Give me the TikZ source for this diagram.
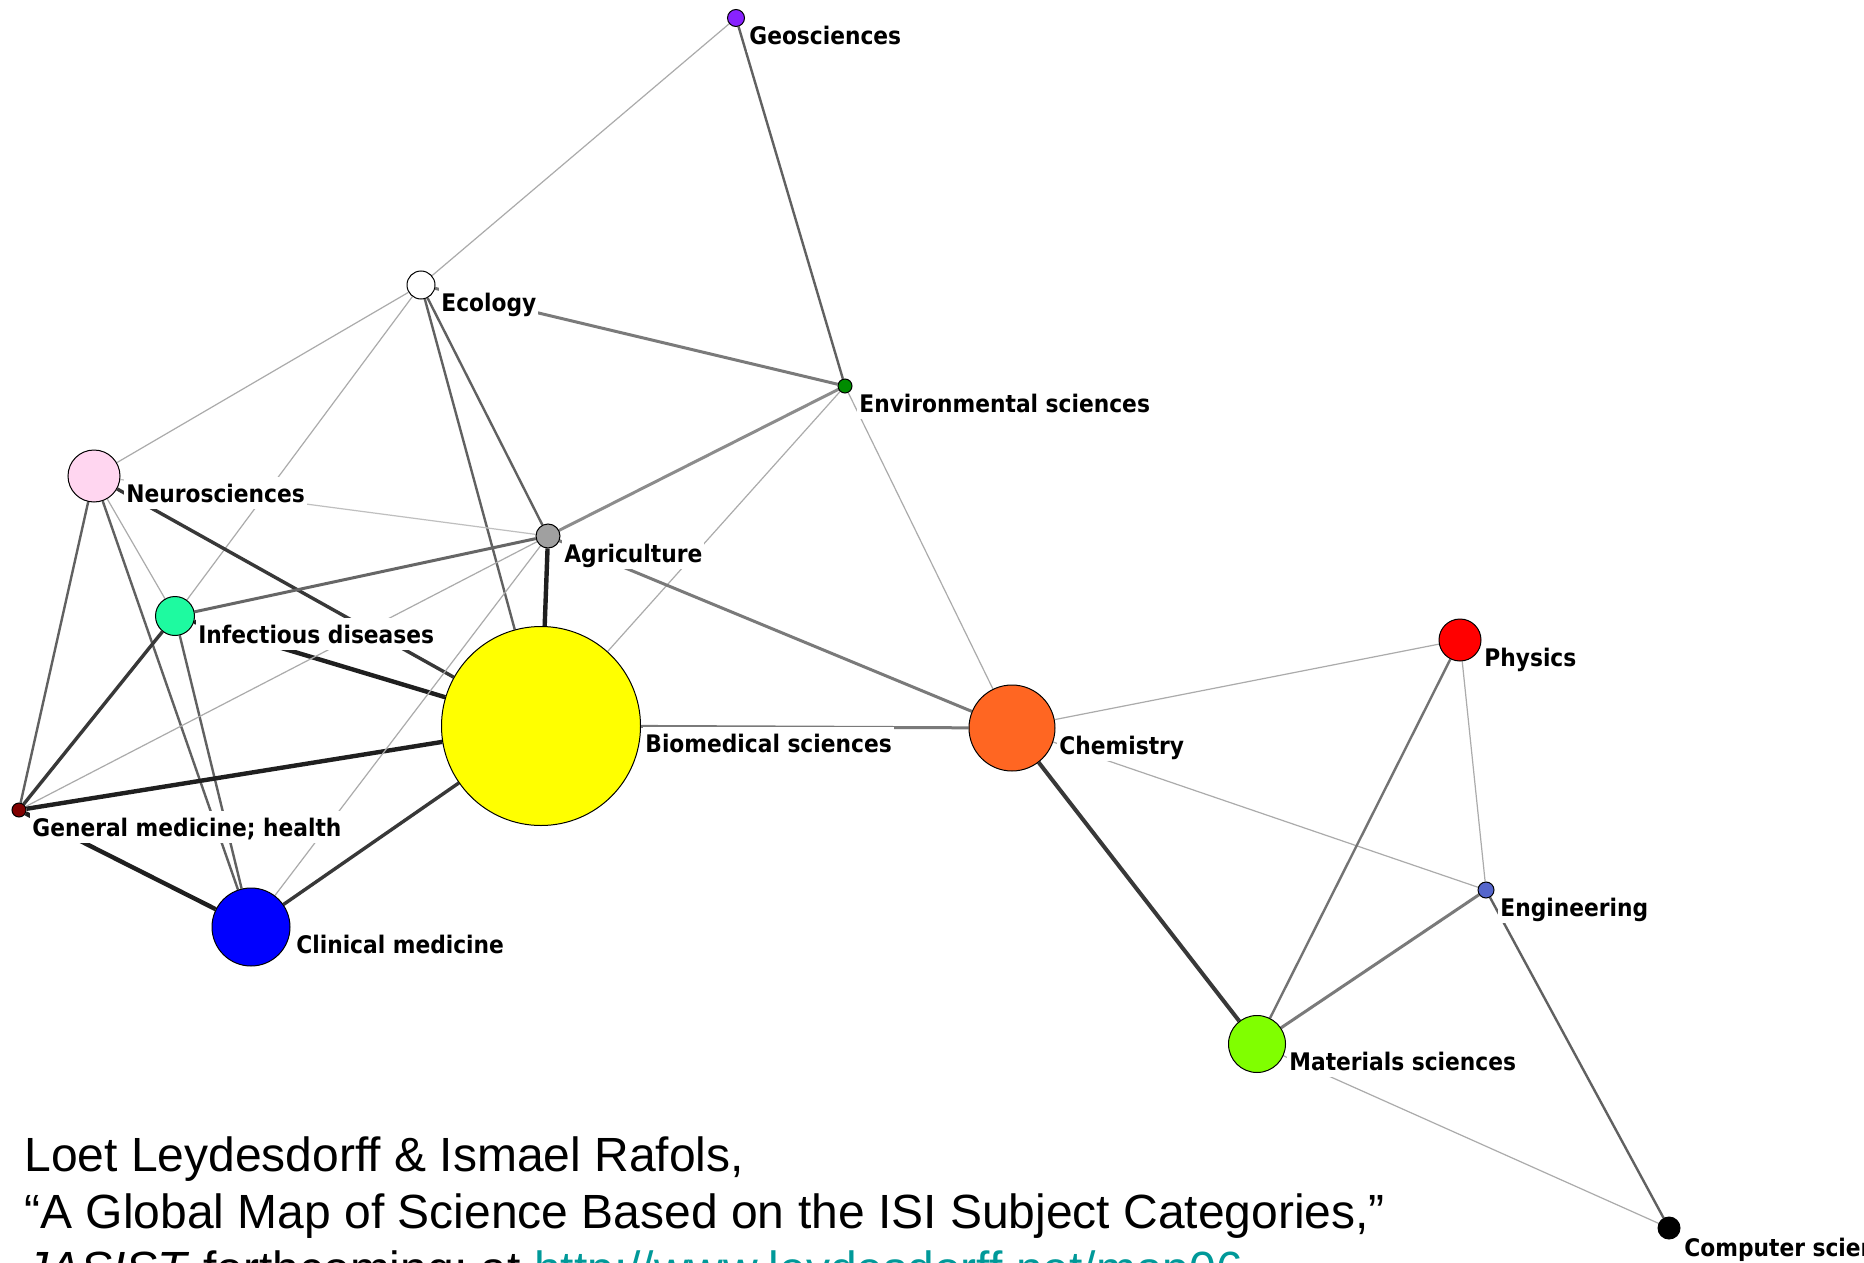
\documentclass[tikz,border=0pt]{standalone}
\usepackage{fontspec}
\setmainfont{Liberation Sans}
\newfontfamily\lblfont{DejaVu Sans Condensed}
\pgfdeclarelayer{bgl}
\pgfdeclarelayer{edges}
\pgfsetlayers{bgl,edges,main}
\definecolor{cGeo}{RGB}{136,34,255}
\definecolor{cEnv}{RGB}{0,140,0}
\definecolor{cNeu}{RGB}{255,214,240}
\definecolor{cAgr}{RGB}{160,160,160}
\definecolor{cInf}{RGB}{30,250,160}
\definecolor{cBio}{RGB}{255,255,0}
\definecolor{cChe}{RGB}{255,102,34}
\definecolor{cPhy}{RGB}{255,0,0}
\definecolor{cGen}{RGB}{128,0,0}
\definecolor{cCli}{RGB}{0,0,255}
\definecolor{cEng}{RGB}{85,102,204}
\definecolor{cMat}{RGB}{128,255,0}
\definecolor{cUrl}{RGB}{0,153,153}
\begin{document}
\begin{tikzpicture}[x=0.5pt,y=-0.5pt,
  nd/.style={circle,draw=black,line width=0.5pt,inner sep=0pt},
  lbl/.style={anchor=base west,font=\lblfont\bfseries\fontsize{12.1}{14}\selectfont,fill=white,
    inner xsep=1pt,inner ysep=2pt,text height=10.5pt,text depth=1.5pt},
  foot/.style={anchor=base west,font=\fontsize{24}{28}\selectfont,inner sep=0pt},
  eA/.style={draw=black!33,line width=0.6pt},
  eB/.style={draw=black!62,line width=1.2pt},
  eC/.style={draw=black!52,line width=1.5pt},
  eD/.style={draw=black!78,line width=1.7pt},
  eE/.style={draw=black!88,line width=2.2pt}]
\useasboundingbox (0,0) rectangle (1864,1263);
\begin{pgfonlayer}{bgl}
\fill[white] (0,0) rectangle (1864,1263);
\end{pgfonlayer}
\clip (0,0) rectangle (1864,1263);
% nodes
\node[nd,fill=cGeo,minimum size=8.5pt] (geo) at (736,18) {};
\node[nd,fill=white,minimum size=14pt] (eco) at (421,285) {};
\node[nd,fill=cEnv,minimum size=7pt] (env) at (845,386) {};
\node[nd,fill=cNeu,minimum size=26pt] (neu) at (94,476) {};
\node[nd,fill=cAgr,minimum size=12pt] (agr) at (548,536) {};
\node[nd,fill=cInf,minimum size=19.5pt] (inf) at (175,616) {};
\node[nd,fill=cBio,minimum size=99.5pt] (bio) at (541,726) {};
\node[nd,fill=cChe,minimum size=43pt] (che) at (1012,728) {};
\node[nd,fill=cPhy,minimum size=21pt] (phy) at (1460,640) {};
\node[nd,fill=cGen,minimum size=7pt] (gen) at (19,810) {};
\node[nd,fill=cCli,minimum size=39pt] (cli) at (251,927) {};
\node[nd,fill=cEng,minimum size=8pt] (eng) at (1486,890) {};
\node[nd,fill=cMat,minimum size=28.5pt] (mat) at (1257,1044) {};
\node[nd,fill=black,minimum size=11pt] (com) at (1669,1228) {};
% edges
\begin{pgfonlayer}{edges}
\draw[eA] (geo) -- (eco);
\draw[eB] (geo) -- (env);
\draw[eC] (eco) -- (env);
\draw[eA] (eco) -- (neu);
\draw[eA] (eco) -- (inf);
\draw[eB] (eco) -- (agr);
\draw[eB] (eco) -- (bio);
\draw[eC,draw=black!45] (env) -- (agr);
\draw[eA] (env) -- (che);
\draw[eA] (env) -- (bio);
\draw[eA,draw=black!25] (neu) -- (agr);
\draw[eD] (neu) -- (bio);
\draw[eA] (neu) -- (inf);
\draw[eB] (neu) -- (gen);
\draw[eB] (neu) -- (cli);
\draw[eC,draw=black!60] (inf) -- (agr);
\draw[eE] (inf) -- (bio);
\draw[eD] (inf) -- (gen);
\draw[eB] (inf) -- (cli);
\draw[eA] (gen) -- (agr);
\draw[eE] (gen) -- (bio);
\draw[eE] (gen) -- (cli);
\draw[eD] (cli) -- (bio);
\draw[eA] (cli) -- (agr);
\draw[eE] (agr) -- (bio);
\draw[eC] (agr) -- (che);
\draw[eC] (bio) -- (che);
\draw[eA] (che) -- (phy);
\draw[eD,line width=2pt] (che) -- (mat);
\draw[eA] (che) -- (eng);
\draw[eB,draw=black!55] (phy) -- (mat);
\draw[eA] (phy) -- (eng);
\draw[eC] (mat) -- (eng);
\draw[eA] (mat) -- (com);
\draw[eB] (eng) -- (com);
\end{pgfonlayer}
% labels
\node[lbl] (lgeo) at (747,45) {Geosciences};
\node[lbl] (leco) at (439,311) {Ecology};
\node[lbl] (lenv) at (857,412) {Environmental sciences};
\node[lbl] (lneu) at (124,502) {Neurosciences};
\node[lbl] (lagr) at (562,562) {Agriculture};
\node[lbl] (linf) at (196,643) {Infectious diseases};
\node[lbl] (lbio) at (643,752) {Biomedical sciences};
\node[lbl] (lche) at (1057,754) {Chemistry};
\node[lbl] (lphy) at (1482,666) {Physics};
\node[lbl] (lgen) at (30,836) {General medicine; health};
\node[lbl] (lcli) at (294,953) {Clinical medicine};
\node[lbl] (leng) at (1498,916) {Engineering};
\node[lbl] (lmat) at (1287,1070) {Materials sciences};
\node[lbl] (lcom) at (1682,1256) {Computer science};
% footer
\node[foot] (f1) at (24,1171) {Loet Leydesdorff \& Ismael Rafols,};
\node[foot] (f2) at (24,1228) {“A Global Map of Science Based on the ISI Subject Categories,”};
\node[foot] (f3) at (24,1285) {\textit{JASIST} forthcoming; at \textcolor{cUrl}{http://www.leydesdorff.net/map06}};
\end{tikzpicture}
\end{document}
